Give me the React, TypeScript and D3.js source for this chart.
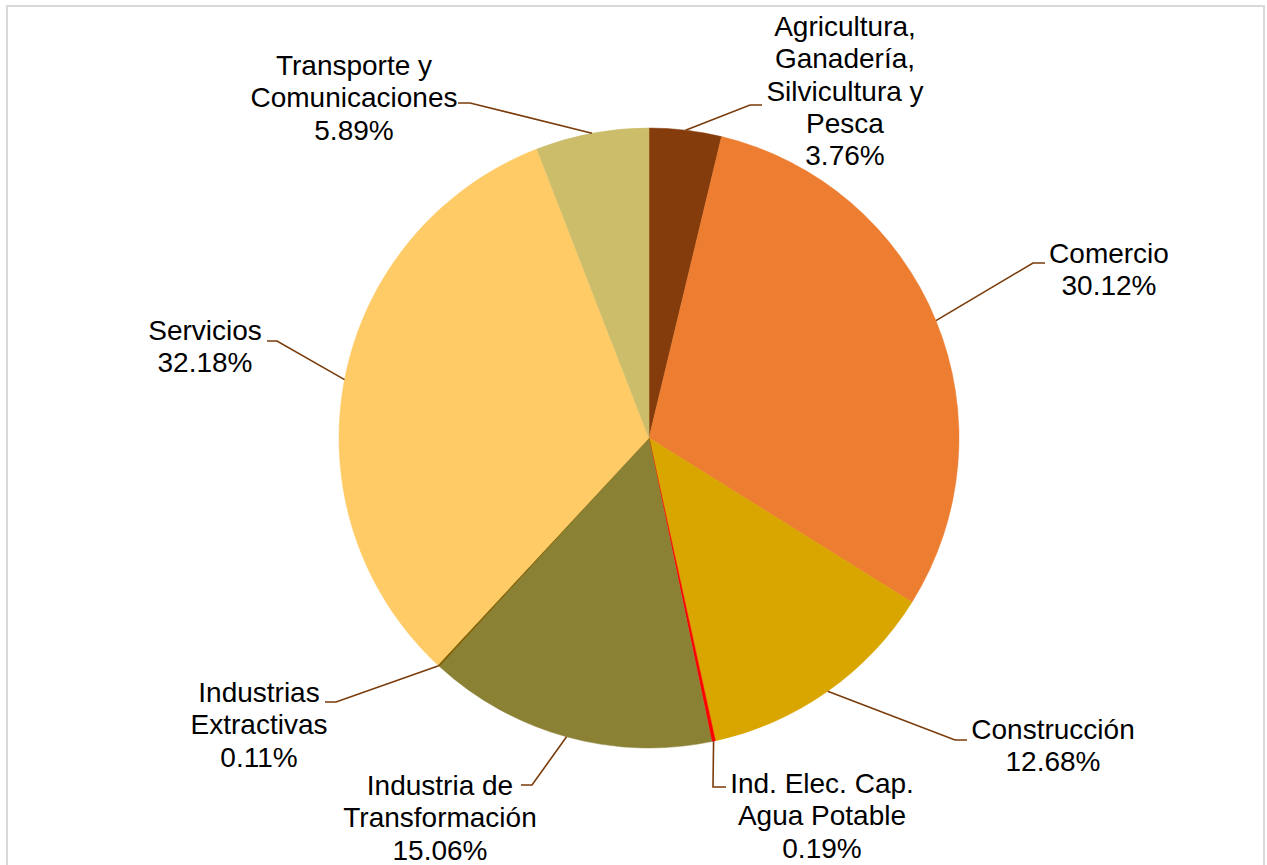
import * as d3 from "d3";

const sectors = [
  "Agricultura, Ganadería, Silvicultura y Pesca",
  "Comercio",
  "Construcción",
  "Ind. Elec. Cap. Agua Potable",
  "Industria de Transformación",
  "Industrias Extractivas",
  "Servicios",
  "Transporte y Comunicaciones",
];
const shares = [3.76, 30.12, 12.68, 0.19, 15.06, 0.11, 32.18, 5.89];
const labelLines = [
  ["Agricultura,", "Ganadería,", "Silvicultura y", "Pesca"],
  ["Comercio"],
  ["Construcción"],
  ["Ind. Elec. Cap.", "Agua Potable"],
  ["Industria de", "Transformación"],
  ["Industrias", "Extractivas"],
  ["Servicios"],
  ["Transporte y", "Comunicaciones"],
];
const colors = ["#843c0c", "#ed7d31", "#d9a600", "#ff0000", "#8b8134", "#7f6000", "#fecb67", "#cbbd6a"];

// manual label layout (Excel-style placed labels): text centre x, first baseline, leader elbow & end
const labelLayout = [
  { x: 845, y: 36, elbow: [750, 105], end: [762, 105] },
  { x: 1109, y: 263, elbow: [1033, 263], end: [1045, 263] },
  { x: 1053, y: 739, elbow: [955, 740], end: [967, 740] },
  { x: 822, y: 793, elbow: [713, 787], end: [726, 787] },
  { x: 440, y: 795, elbow: [532, 785], end: [521, 785] },
  { x: 259, y: 702, elbow: [336, 702], end: [325, 702] },
  { x: 205, y: 340, elbow: [277, 341], end: [267, 341] },
  { x: 354, y: 75, elbow: [470, 103], end: [458, 103] },
];

const W = 1267;
const H = 865;
const cx = 649;
const cy = 438;
const R = 310;
const lineH = 32.3;

export default function App() {
  const pie = d3.pie<number>().sort(null).value((d) => d);
  const arcs = pie(shares);
  const arc = d3.arc<d3.PieArcDatum<number>>().innerRadius(0).outerRadius(R);

  const edgePoint = (a: d3.PieArcDatum<number>) => {
    const m = (a.startAngle + a.endAngle) / 2;
    return [cx + R * Math.sin(m), cy - R * Math.cos(m)];
  };

  return (
    <svg
      width={W}
      height={H}
      style={{ position: "absolute", left: 0, top: 0, background: "#fff" }}
      fontFamily="'Liberation Sans', Arial, sans-serif"
    >
      <rect x={7} y={6} width={1257} height={H + 20} fill="#fff" stroke="#d9d9d9" strokeWidth={2} />
      <g transform={`translate(${cx},${cy})`}>
        {arcs.map((a, i) => (
          <path key={sectors[i]} d={arc(a) ?? ""} fill={colors[i]} stroke={colors[i]} strokeWidth={0.5} />
        ))}
      </g>
      {arcs.map((a, i) => {
        const [sx, sy] = edgePoint(a);
        const l = labelLayout[i];
        const lines = [...labelLines[i], `${shares[i].toFixed(2)}%`];
        return (
          <g key={sectors[i]}>
            <polyline
              points={`${sx},${sy} ${l.elbow[0]},${l.elbow[1]} ${l.end[0]},${l.end[1]}`}
              fill="none"
              stroke="#7a3b0a"
              strokeWidth={1.6}
            />
            <text x={l.x} y={l.y} textAnchor="middle" fontSize={28} fill="#000">
              {lines.map((t, j) => (
                <tspan key={j} x={l.x} y={l.y + j * lineH}>
                  {t}
                </tspan>
              ))}
            </text>
          </g>
        );
      })}
    </svg>
  );
}
